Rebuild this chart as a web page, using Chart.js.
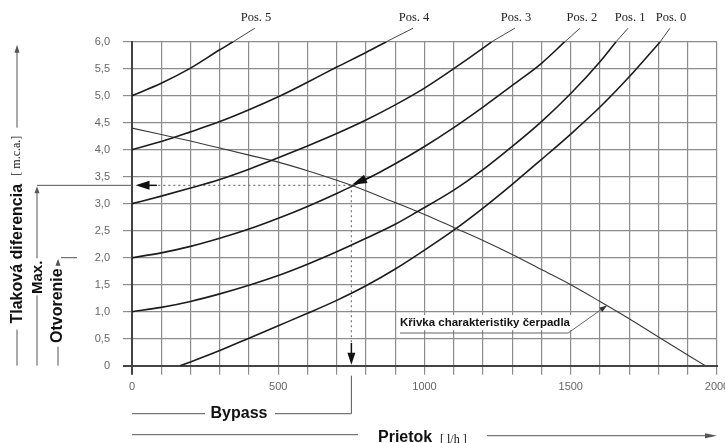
<!DOCTYPE html>
<html>
<head>
<meta charset="utf-8">
<script src="https://cdn.jsdelivr.net/npm/chart.js@4.4.1/dist/chart.umd.min.js"></script>
<style>
html, body { margin: 0; padding: 0; background: #fff; }
#wrap { width: 725px; height: 443px; }
</style>
</head>
<body>
<div id="wrap"><canvas id="bypassChart" width="725" height="443"></canvas></div>
<script>
// flow [l/h] vs pressure difference [m.c.a.]
const pos5Flow = [0, 100, 200, 300, 346];
const pos5Dp   = [5.0, 5.23, 5.51, 5.85, 6.0];
const pos4Flow = [0, 100, 200, 300, 400, 500, 600, 700, 800, 870];
const pos4Dp   = [4.0, 4.15, 4.33, 4.52, 4.74, 4.98, 5.25, 5.53, 5.80, 6.0];
const pos3Flow = [0, 100, 200, 300, 400, 500, 600, 700, 800, 900, 1000, 1100, 1200, 1230];
const pos3Dp   = [3.0, 3.14, 3.29, 3.45, 3.64, 3.85, 4.07, 4.30, 4.55, 4.83, 5.14, 5.50, 5.88, 6.0];
const pos2Flow = [0, 100, 200, 300, 400, 500, 600, 700, 800, 900, 1000, 1100, 1200, 1300, 1400, 1480];
const pos2Dp   = [2.0, 2.09, 2.21, 2.36, 2.53, 2.73, 2.95, 3.19, 3.45, 3.74, 4.06, 4.41, 4.79, 5.19, 5.60, 6.0];
const pos1Flow = [0, 100, 200, 300, 400, 500, 600, 700, 800, 900, 975, 1100, 1200, 1300, 1400, 1500, 1600, 1655];
const pos1Dp   = [1.0, 1.08, 1.19, 1.33, 1.49, 1.67, 1.88, 2.11, 2.36, 2.62, 2.85, 3.25, 3.63, 4.06, 4.52, 5.04, 5.63, 6.0];
const pos0Flow = [164, 200, 300, 400, 500, 600, 700, 800, 900, 1000, 1100, 1200, 1300, 1400, 1500, 1600, 1700, 1806];
const pos0Dp   = [0, 0.07, 0.28, 0.51, 0.74, 0.97, 1.21, 1.48, 1.79, 2.14, 2.51, 2.92, 3.36, 3.82, 4.29, 4.79, 5.35, 6.0];
const pumpFlow = [0, 100, 200, 300, 400, 500, 600, 750, 900, 1000, 1100, 1200, 1300, 1400, 1500, 1600, 1700, 1800, 1960];
const pumpDp   = [4.40, 4.28, 4.16, 4.03, 3.90, 3.77, 3.61, 3.34, 3.02, 2.80, 2.56, 2.32, 2.06, 1.78, 1.50, 1.19, 0.87, 0.53, 0];

// curve labels on top and where their leader lines end
const posLabels  = ['Pos. 5', 'Pos. 4', 'Pos. 3', 'Pos. 2', 'Pos. 1', 'Pos. 0'];
const labelFlow  = [424, 964, 1313, 1538, 1703, 1843];
const leaderFlow = [420, 961, 1309, 1532, 1696, 1839];
const labelDp = 6.44;
const leaderDp = 6.25;

// working point (pump curve x Pos. 2) and opening pressure
const opFlow = 750;
const opDp = 3.34;
const openDp = 2.0;
// pump curve label leader
const pumpNoteFlow = [916, 1491, 1625];
const pumpNoteDp   = [0.79, 0.605, 1.12];

const sans = "'Liberation Sans', Arial, sans-serif";
const serif = "'Liberation Serif', 'DejaVu Serif', serif";

function pts(xs, ys) {
    return xs.map((v, i) => ({ x: v, y: ys[i] }));
}

const curveList = [
    [pos5Flow, pos5Dp], [pos4Flow, pos4Dp], [pos3Flow, pos3Dp],
    [pos2Flow, pos2Dp], [pos1Flow, pos1Dp], [pos0Flow, pos0Dp]
];

const datasets = curveList.map(([f, d], i) => ({
    label: posLabels[i],
    data: pts(f, d),
    borderColor: '#1c1c1c',
    borderWidth: 1.6,
    pointRadius: 0,
    cubicInterpolationMode: 'monotone'
}));

// leader lines from the curve end up to its label
curveList.forEach(([f, d], i) => {
    datasets.push({
        label: posLabels[i] + ' leader',
        data: [{ x: f[f.length - 1], y: d[d.length - 1] }, { x: leaderFlow[i], y: leaderDp }],
        borderColor: '#333',
        borderWidth: 0.9,
        pointRadius: 0,
        clip: false
    });
});

datasets.push({
    label: 'Křivka charakteristiky čerpadla',
    data: pts(pumpFlow, pumpDp),
    borderColor: '#3a3a3a',
    borderWidth: 1.1,
    pointRadius: 0,
    cubicInterpolationMode: 'monotone'
});

// dotted read-off lines from the working point
datasets.push({
    label: 'read dp',
    data: [{ x: 90, y: opDp }, { x: opFlow, y: opDp }],
    borderColor: '#777',
    borderWidth: 1.2,
    borderDash: [2, 3],
    pointRadius: 0
});
datasets.push({
    label: 'read flow',
    data: [{ x: opFlow, y: opDp }, { x: opFlow, y: 0.42 }],
    borderColor: '#777',
    borderWidth: 1.2,
    borderDash: [2, 3],
    pointRadius: 0
});

function arrow(ctx, x1, y1, x2, y2, len, half) {
    const a = Math.atan2(y2 - y1, x2 - x1);
    const c = Math.cos(a), s = Math.sin(a);
    ctx.beginPath();
    ctx.moveTo(x1, y1);
    ctx.lineTo(x2 - c * len * 0.6, y2 - s * len * 0.6);
    ctx.stroke();
    ctx.beginPath();
    ctx.moveTo(x2, y2);
    ctx.lineTo(x2 - len * c + half * s, y2 - len * s - half * c);
    ctx.lineTo(x2 - len * c - half * s, y2 - len * s + half * c);
    ctx.closePath();
    ctx.fill();
}

function vText(ctx, text, x, y, font) {
    ctx.save();
    ctx.translate(x, y);
    ctx.rotate(-Math.PI / 2);
    ctx.font = font;
    ctx.textAlign = 'center';
    ctx.textBaseline = 'middle';
    ctx.fillText(text, 0, 0);
    ctx.restore();
}

const diagramNotes = {
    id: 'diagramNotes',
    afterDatasetsDraw(chart) {
        const { ctx, chartArea: area, scales: { x, y } } = chart;
        const y0 = y.getPixelForValue(0);
        const yTop = y.getPixelForValue(6);
        const yMax = y.getPixelForValue(opDp);
        const yOpen = y.getPixelForValue(openDp);
        const xOp = x.getPixelForValue(opFlow);

        ctx.save();
        ctx.fillStyle = '#111';
        ctx.strokeStyle = '#111';

        // curve names
        ctx.font = '12.5px ' + serif;
        ctx.textAlign = 'center';
        ctx.textBaseline = 'middle';
        ctx.fillStyle = '#222';
        posLabels.forEach((t, i) => {
            ctx.fillText(t, x.getPixelForValue(labelFlow[i]), y.getPixelForValue(labelDp));
        });

        // arrows at the working point
        ctx.fillStyle = '#111';
        ctx.lineWidth = 1.5;
        arrow(ctx, x.getPixelForValue(85), yMax, x.getPixelForValue(12), yMax, 14, 4.5);
        arrow(ctx, x.getPixelForValue(822), y.getPixelForValue(3.51), x.getPixelForValue(752), y.getPixelForValue(3.35), 15, 4.5);
        arrow(ctx, xOp, y.getPixelForValue(0.42), xOp, y0 - 1, 12, 4);

        // left side: axis title and the two markers
        const axisX = area.left - 115;
        const maxX = area.left - 95;
        const openX = area.left - 74;
        ctx.strokeStyle = '#555';
        ctx.fillStyle = '#555';
        ctx.lineWidth = 1;
        arrow(ctx, axisX, yTop + 86, axisX, yTop + 3, 8, 2.5);
        ctx.beginPath();
        ctx.moveTo(axisX, yTop + 288);
        ctx.lineTo(axisX, y0);
        ctx.stroke();

        ctx.beginPath();
        ctx.moveTo(maxX, yMax);
        ctx.lineTo(area.left, yMax);
        ctx.stroke();
        arrow(ctx, maxX, yMax + 73, maxX, yMax + 1, 7, 2.5);
        ctx.beginPath();
        ctx.moveTo(maxX, yMax + 110);
        ctx.lineTo(maxX, y0);
        ctx.stroke();

        ctx.beginPath();
        ctx.moveTo(openX + 3, yOpen);
        ctx.lineTo(area.left - 55, yOpen);
        ctx.stroke();
        arrow(ctx, openX, yOpen + 8, openX, yOpen + 1, 7, 2.5);
        ctx.beginPath();
        ctx.moveTo(openX, yOpen + 89);
        ctx.lineTo(openX, y0);
        ctx.stroke();

        ctx.fillStyle = '#111';
        vText(ctx, '[ m.c.a.]', axisX, yTop + 114, '12px ' + serif);
        vText(ctx, 'Tlaková diferencia', axisX + 1, yTop + 212, 'bold 16px ' + sans);
        vText(ctx, 'Max.', maxX + 1, yMax + 92, 'bold 15px ' + sans);
        vText(ctx, 'Otvorenie', openX, yOpen + 48, 'bold 16px ' + sans);

        // bottom: bypass flow and axis title
        const bypassY = y0 + 48;
        const flowY = y0 + 69;
        ctx.strokeStyle = '#555';
        ctx.beginPath();
        ctx.moveTo(area.left, bypassY);
        ctx.lineTo(area.left + 73, bypassY);
        ctx.moveTo(area.left + 143, bypassY);
        ctx.lineTo(xOp, bypassY);
        ctx.lineTo(xOp, y0 + 10);
        ctx.moveTo(area.left, flowY);
        ctx.lineTo(area.left + 226, flowY);
        ctx.stroke();
        ctx.fillStyle = '#555';
        arrow(ctx, area.left + 355, flowY + 1, area.right, flowY + 1, 12, 2.5);

        ctx.fillStyle = '#111';
        ctx.textBaseline = 'middle';
        ctx.textAlign = 'center';
        ctx.font = 'bold 16px ' + sans;
        ctx.fillText('Bypass', area.left + 107, bypassY);
        ctx.textAlign = 'left';
        ctx.fillText('Prietok', area.left + 246, flowY + 3);
        ctx.font = '12px ' + serif;
        ctx.fillText('[ l/h ]', area.left + 308, flowY + 5);

        // pump curve label with its leader
        const nx = pumpNoteFlow.map(v => x.getPixelForValue(v));
        const ny = pumpNoteDp.map(v => y.getPixelForValue(v));
        ctx.fillStyle = '#fff';
        ctx.fillRect(nx[0] - 2, ny[0] - 8, 174, 15);
        ctx.fillStyle = '#111';
        ctx.font = 'bold 11.5px ' + sans;
        ctx.fillText('Křivka charakteristiky čerpadla', nx[0], ny[0]);
        ctx.strokeStyle = '#666';
        ctx.lineWidth = 1;
        ctx.beginPath();
        ctx.moveTo(nx[0], ny[1]);
        ctx.lineTo(nx[1], ny[1]);
        ctx.stroke();
        ctx.fillStyle = '#333';
        arrow(ctx, nx[1], ny[1], nx[2], ny[2], 8, 2.5);
        ctx.restore();
    }
};

new Chart(document.getElementById('bypassChart'), {
    type: 'scatter',
    data: { datasets: datasets },
    options: {
        responsive: false,
        animation: false,
        showLine: true,
        layout: { padding: { top: 41.7, right: 8, left: 0, bottom: 0 } },
        plugins: { legend: { display: false }, tooltip: { enabled: false } },
        scales: {
            x: {
                type: 'linear',
                min: 0,
                max: 2000,
                afterFit: (s) => { s.height = 77.3; s.paddingLeft = 0; s.paddingRight = 0; },
                border: { color: '#444', width: 2 },
                grid: {
                    color: (c) => c.tick && c.tick.value === 0 ? '#444' : '#8c8c8c',
                    lineWidth: (c) => c.tick && c.tick.value === 0 ? 2 : 1.2,
                    tickLength: 9
                },
                ticks: {
                    stepSize: 100,
                    autoSkip: false,
                    maxRotation: 0,
                    padding: 6,
                    color: '#666',
                    font: { family: sans, size: 11 },
                    callback: (v) => v % 500 === 0 ? String(v) : ''
                }
            },
            y: {
                min: 0,
                max: 6,
                afterFit: (s) => { s.width = 132; s.paddingTop = 0; s.paddingBottom = 0; },
                border: { color: '#444', width: 2 },
                grid: {
                    color: (c) => c.tick && c.tick.value === 0 ? '#444' : '#8c8c8c',
                    lineWidth: (c) => c.tick && c.tick.value === 0 ? 2 : 1.2,
                    tickLength: 9
                },
                ticks: {
                    stepSize: 0.5,
                    padding: 13,
                    color: '#666',
                    font: { family: sans, size: 11 },
                    callback: (v) => v === 0 ? '0' : v.toFixed(1).replace('.', ',')
                }
            }
        }
    },
    plugins: [diagramNotes]
});
</script>
</body>
</html>
